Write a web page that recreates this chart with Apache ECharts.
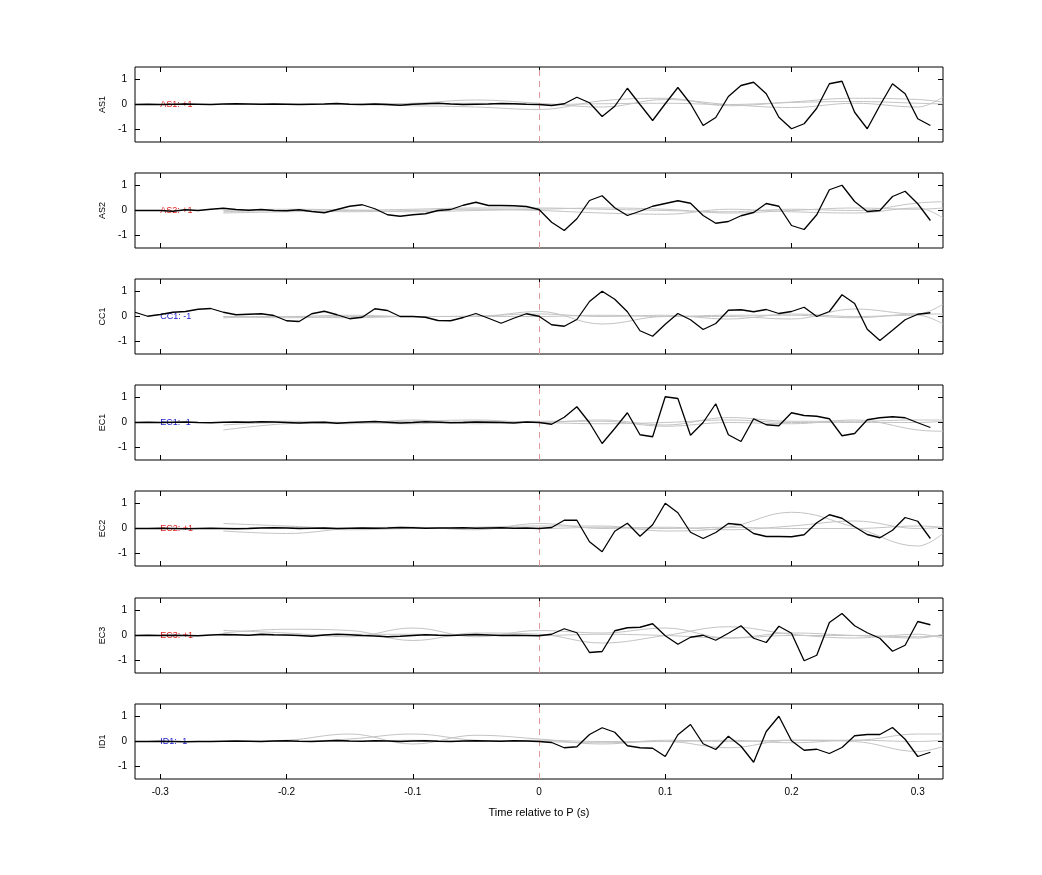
<!DOCTYPE html>
<html>
<head>
<meta charset="UTF-8">
<title>Waveforms</title>
<style>
  body { margin: 0; background: #fff; }
  #chart { width: 1042px; height: 875px; }
</style>
</head>
<body>
<div id="chart"></div>
<script src="https://cdn.jsdelivr.net/npm/echarts@6/dist/echarts.min.js"></script>
<script>
var stations = ['AS1', 'AS2', 'CC1', 'EC1', 'EC2', 'EC3', 'ID1'];
var polarity = ['+1', '+1', '-1', '-1', '+1', '+1', '-1'];
var tStart = -0.32, tStep = 0.01;   // black trace sample times: -0.32 .. 0.31

// black traces, 64 samples each (-0.32 .. 0.31)
var traceAS1 = [0,0.01,0,0.01,0.02,0.01,0,0.02,0.03,0.02,0.01,0.02,0.01,0,0.01,0.02,0.04,0.01,0,0.02,0,-0.03,0.01,0.03,0.05,0.02,0,0.01,0.02,0.04,0.03,0.01,
  0,-0.04,0.03,0.29,0.07,-0.48,-0.07,0.65,0,-0.64,0.03,0.68,0.03,-0.84,-0.52,0.32,0.76,0.89,0.43,-0.51,-0.97,-0.77,-0.15,0.83,0.93,-0.31,-0.97,-0.04,0.83,0.43,-0.57,-0.84];
var traceAS2 = [0,0,0,-0.03,0.03,0,0.05,0.09,0.04,0.01,0.04,0,-0.01,0.03,-0.04,-0.09,0.04,0.17,0.23,0.07,-0.17,-0.23,-0.17,-0.13,0,0.04,0.21,0.33,0.2,0.2,0.19,0.16,
  0.04,-0.47,-0.8,-0.33,0.4,0.59,0.11,-0.2,-0.03,0.17,0.28,0.39,0.29,-0.2,-0.51,-0.44,-0.21,-0.08,0.28,0.17,-0.6,-0.76,-0.17,0.83,1.01,0.36,-0.04,0,0.56,0.77,0.27,-0.4];
var traceCC1 = [0.17,0.01,0.08,0.17,0.2,0.29,0.32,0.17,0.07,0.09,0.11,0.04,-0.17,-0.2,0.11,0.21,0.07,-0.09,-0.03,0.31,0.24,0,0,-0.03,-0.16,-0.17,-0.04,0.12,-0.07,-0.27,-0.07,0.11,
  0.01,-0.33,-0.39,-0.12,0.6,1.01,0.69,0.19,-0.57,-0.79,-0.31,0.12,-0.13,-0.52,-0.28,0.25,0.27,0.19,0.28,0.12,0.2,0.37,0,0.2,0.87,0.52,-0.51,-0.96,-0.55,-0.13,0.09,0.15];
var traceEC1 = [0,0.01,0,0.01,0.02,0,-0.01,0.01,0.02,0.01,0.03,0.02,0,-0.02,0,0.01,-0.03,0,0.02,0.04,0.01,-0.02,0,0.03,0.01,-0.01,0,0.02,0.01,0,-0.02,0.02,
  0,-0.07,0.21,0.63,-0.01,-0.84,-0.24,0.39,-0.49,-0.57,1.03,0.96,-0.51,0,0.75,-0.49,-0.76,0.15,-0.09,-0.13,0.39,0.28,0.25,0.15,-0.53,-0.44,0.11,0.19,0.23,0.19,-0.01,-0.2];
var traceEC2 = [0,0,0.01,0,-0.01,0,0.01,0,-0.01,0,0.02,0.03,0.02,0,0.01,0.02,0,0.01,0.02,0.01,0.02,0.04,0.03,0.01,0.02,0.02,0.03,0.01,0.02,0.03,0.01,0.02,
  0,0.04,0.33,0.33,-0.53,-0.93,-0.11,0.21,-0.31,0.15,1.01,0.63,-0.15,-0.4,-0.16,0.2,0.15,-0.2,-0.32,-0.32,-0.33,-0.25,0.23,0.55,0.41,0.07,-0.24,-0.37,-0.07,0.44,0.29,-0.4];
var traceEC3 = [0,0.01,0,0.01,0,-0.01,0.02,0.04,0.03,0.01,0.05,0.03,0.02,0,-0.03,0.02,0.05,0.03,0,-0.02,-0.05,-0.03,0,0.03,0.01,0,0.02,0.04,0.02,0,0.01,0,
  -0.01,0.05,0.27,0.11,-0.68,-0.64,0.19,0.31,0.33,0.47,-0.01,-0.35,-0.07,0.01,-0.19,0.09,0.39,-0.11,-0.28,0.37,0.09,-1.01,-0.79,0.52,0.88,0.39,0.11,-0.11,-0.63,-0.39,0.56,0.43];
var traceID1 = [0,0,0.01,0,-0.01,0,0,0.01,0.02,0.01,0,0.02,0.03,0.01,0,0.02,0.04,0.02,0.01,0.03,0.02,0,0.02,0.03,0.01,0,0.02,0.03,0.02,0.01,0.03,0.02,
  0,-0.04,-0.25,-0.21,0.28,0.55,0.37,-0.17,-0.25,-0.27,-0.6,0.27,0.68,-0.09,-0.32,0.21,-0.19,-0.83,0.4,1.01,0.03,-0.35,-0.31,-0.48,-0.24,0.23,0.28,0.28,0.56,0.09,-0.6,-0.43];
var traces = [traceAS1, traceAS2, traceCC1, traceEC1, traceEC2, traceEC3, traceID1];

// grey reference traces, sampled at these times (drawn smooth)
var greyTimes = [-0.25,-0.2,-0.15,-0.1,-0.05,0,0.05,0.1,0.15,0.2,0.25,0.3,0.32];
var greyAS1 = [
  [0,0,0.02,0.05,0.18,0.05,-0.1,0.2,0,-0.12,0.05,-0.1,0.3],
  [0,0.02,0,-0.05,-0.1,-0.2,0.15,0.25,-0.05,0.1,0.25,0.2,0.1],
  [0,0,0,0.02,0.05,0,0.03,0.05,0,0.08,0.12,0.05,0.02]];
var greyAS2 = [
  [-0.1,-0.05,0,0.05,0.1,0.1,0.05,0,-0.05,0.05,0,0.3,0.35],
  [-0.05,0,-0.05,0,0.05,0,-0.1,-0.15,0.05,-0.05,-0.1,0.1,-0.3],
  [0,0.05,0.02,-0.05,0,0.05,0.1,0.05,-0.1,0,0.1,0.05,0.1]];
var greyCC1 = [
  [0,-0.05,0,0,0,0.2,-0.3,0,0,-0.1,0.3,0.1,0.5],
  [0,0,0.05,0,0.02,0.1,0,0.05,-0.1,0.1,0,0.05,-0.3],
  [-0.05,0,-0.05,0,0,0,0.05,0,0.05,0.05,-0.05,0.1,0.1]];
var greyEC1 = [
  [-0.3,-0.05,0,0.05,0.1,0,0.1,-0.1,0.2,0.05,0.05,0.1,0.1],
  [-0.1,0,-0.05,0.1,-0.05,0.05,0.05,-0.15,0,-0.05,0.1,-0.3,-0.35],
  [0,0.05,0,-0.05,0.05,0,-0.05,0,0.1,0,0,0,0.05]];
var greyEC2 = [
  [0.2,0.1,0,0,0.05,0.1,0.1,-0.1,0.05,0.65,0.05,-0.7,-0.2],
  [-0.1,-0.2,0,0.05,-0.05,0.2,0,0.05,-0.05,0.1,0.3,0,0.05],
  [0,0.05,-0.05,0,0.02,0,0.05,0,0.05,0,0,0.1,0.05]];
var greyEC3 = [
  [0.2,0.1,-0.05,0.3,-0.05,0.2,0.1,0.3,-0.1,0.1,0,-0.1,0.05],
  [0.1,0.25,0.2,-0.2,0.1,0.05,-0.3,0,0.35,0.05,-0.1,0.05,-0.1],
  [0,0,0.05,0.05,0,0,0.05,0,-0.1,0,0,-0.05,0]];
var greyID1 = [
  [0,0,0.1,0.3,0.05,0,-0.05,0,-0.25,0.05,0,-0.4,-0.2],
  [0,0.05,0.3,-0.1,0.25,0.1,-0.1,0.05,0,0.05,0.05,0.3,0.3],
  [0,0,0,0.05,0,0.05,0,0,0.05,-0.05,0.05,0,0.05]];
var greys = [greyAS1, greyAS2, greyCC1, greyEC1, greyEC2, greyEC3, greyID1];

var xTicks = [-0.3, -0.2, -0.1, 0, 0.1, 0.2, 0.3];
var yTicks = [-1, 0, 1];

var panelTops = [67, 173, 279, 385, 491, 598, 704];
var panelH = 75;

var myChart = echarts.init(document.getElementById('chart'));
var grids = [], xAxes = [], yAxes = [], series = [];

stations.forEach(function (st, i) {
  grids.push({ left: 135, right: 99, top: panelTops[i], height: panelH, show: true,
    borderColor: '#000', borderWidth: 1, backgroundColor: '#fff' });
  var last = i === stations.length - 1;
  ['bottom', 'top'].forEach(function (pos) {
    xAxes.push({
      gridIndex: i, type: 'value', min: -0.32, max: 0.32, interval: 0.1, position: pos,
      axisLine: { show: false, onZero: false },
      axisTick: { show: true, inside: true, length: 5, lineStyle: { color: '#000' }, customValues: xTicks },
      axisLabel: { show: last && pos === 'bottom', color: '#000', fontSize: 10, fontFamily: 'Liberation Sans',
        customValues: xTicks, formatter: function (v) { return String(+v.toFixed(1)); } },
      splitLine: { show: false },
      name: last && pos === 'bottom' ? 'Time relative to P (s)' : '',
      nameLocation: 'middle', nameGap: 28,
      nameTextStyle: { color: '#000', fontSize: 11, fontFamily: 'Liberation Sans' }
    });
  });
  ['left', 'right'].forEach(function (pos) {
    yAxes.push({
      gridIndex: i, type: 'value', min: -1.5, max: 1.5, position: pos,
      axisLine: { show: false, onZero: false },
      axisTick: { show: true, inside: true, length: 5, lineStyle: { color: '#000' }, customValues: yTicks },
      axisLabel: { show: pos === 'left', color: '#000', fontSize: 10, fontFamily: 'Liberation Sans', customValues: yTicks },
      splitLine: { show: false },
      name: pos === 'left' ? st : '', nameLocation: 'middle', nameGap: 28, nameRotate: 90,
      nameTextStyle: { color: '#000', fontSize: 9, fontFamily: 'Liberation Sans' }
    });
  });
  var xi = i * 2, yi = i * 2;
  greys[i].forEach(function (g) {
    series.push({
      type: 'line', xAxisIndex: xi, yAxisIndex: yi, smooth: 0.4, symbol: 'none', silent: true,
      lineStyle: { color: '#c4c4c4', width: 1 },
      data: g.map(function (v, k) { return [greyTimes[k], v]; })
    });
  });
  var blue = polarity[i] === '-1';
  series.push({
    type: 'line', xAxisIndex: xi, yAxisIndex: yi, symbol: 'none', z: 5,
    lineStyle: { color: '#000', width: 1.3 },
    data: traces[i].map(function (v, k) { return [+(tStart + k * tStep).toFixed(2), v]; }),
    markLine: { silent: true, symbol: 'none', label: { show: false },
      lineStyle: { color: '#e09a9a', type: [6, 5], width: 1 }, data: [{ xAxis: 0 }] },
    markPoint: { symbol: 'circle', symbolSize: 0,
      label: { show: true, position: 'right', distance: 0, formatter: st + ': ' + polarity[i],
        color: blue ? '#2020d0' : '#e02020', fontSize: 9, fontFamily: 'Liberation Sans' },
      data: [{ coord: [-0.3, 0] }] }
  });
});

var option = {
  backgroundColor: '#fff',
  animation: false,
  grid: grids,
  xAxis: xAxes,
  yAxis: yAxes,
  series: series
};
myChart.setOption(option);
</script>
</body>
</html>
